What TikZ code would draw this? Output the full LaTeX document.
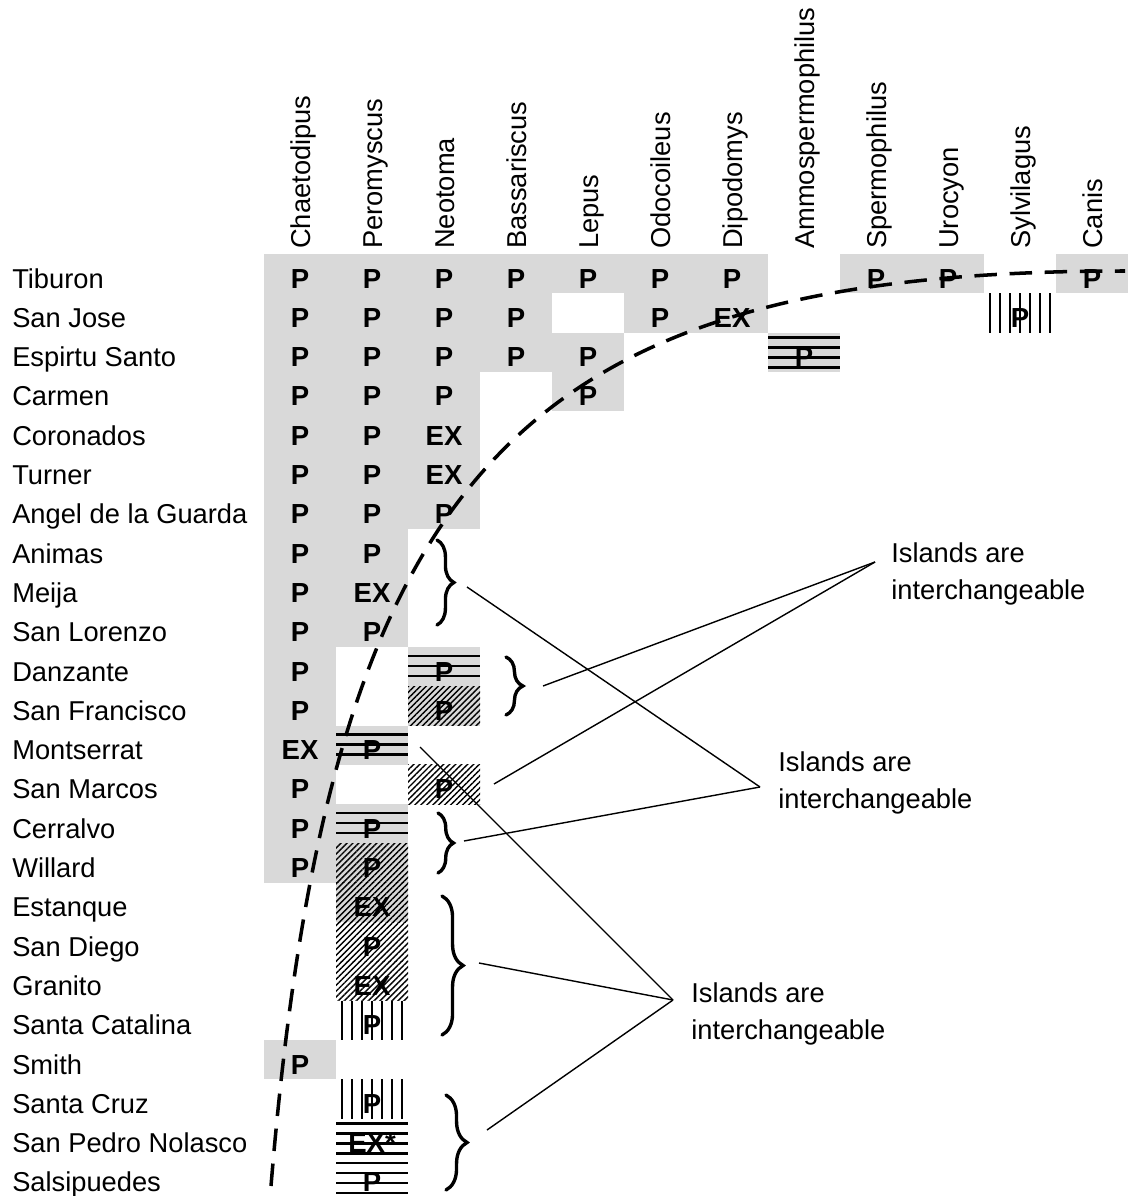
\documentclass[tikz,border=0pt]{standalone}
\usepackage{fontspec}
\setmainfont{Liberation Sans}
\usetikzlibrary{patterns.meta,decorations.pathreplacing}
\tikzset{
	groupbrace/.style={decorate, decoration={brace, amplitude=#1}},
}
\begin{document}
\begin{tikzpicture}[
	x=0.025cm, y=-0.025cm,
	island/.style={anchor=base west, inner sep=0pt, font=\fontsize{19.4}{23}\selectfont},
	genus/.style={anchor=base west, rotate=90, inner sep=0pt, font=\fontsize{19.4}{23}\selectfont},
	entry/.style={anchor=base, inner sep=0pt, font=\bfseries\fontsize{19.6}{23}\selectfont},
	present/.style={fill=black!15, draw=none},
	hline/.style={line width=1.8pt},
	vline/.style={line width=1.9pt},
	hatch/.style={pattern={Lines[angle=45,distance=3pt,line width=1pt]}, pattern color=black},
	thickbrace/.style={line width=2.4pt, line cap=round},
	note/.style={anchor=west, align=left, inner sep=0pt, font=\fontsize{19.4}{26.3}\selectfont},
	link/.style={line width=1pt},
	rangeline/.style={dash pattern=on 16pt off 9pt, line width=2.5pt},
]
\useasboundingbox (0,0) rectangle (1133,1196);

\fill[present] (264,254) rectangle (768,293.3);
\fill[present] (840,254) rectangle (984,293.3);
\fill[present] (1056,254) rectangle (1128,293.3);
\fill[present] (264,293.3) rectangle (552,332.6);
\fill[present] (624,293.3) rectangle (768,332.6);
\fill[present] (264,332.6) rectangle (624,371.9);
\fill[present] (768,332.6) rectangle (840,371.9);
\fill[present] (264,371.9) rectangle (480,411.2);
\fill[present] (552,371.9) rectangle (624,411.2);
\fill[present] (264,411.2) rectangle (480,529.1);
\fill[present] (264,529.1) rectangle (408,647);
\fill[present] (264,647) rectangle (336,882.8);
\fill[present] (408,647) rectangle (480,725.6);
\fill[present] (336,725.6) rectangle (408,764.9);
\fill[present] (336,804.2) rectangle (408,922.1);
\fill[present] (264,1040) rectangle (336,1079.3);

\foreach \r/\c in {11/2,13/2,15/1,16/1,17/1,18/1}
	\fill[hatch] ({264+72*\c},{254+39.3*\r}) rectangle ++(72,39.3);
\foreach \r/\c in {10/2,12/1,14/1}
	\foreach \k in {9,19,29}
		\draw[hline] ({264+72*\c},{254+39.3*\r+\k}) -- ++(72,0);
\foreach \r/\c in {2/7,22/1,23/1}
	\foreach \k in {5,15,25,35}
		\draw[hline] ({264+72*\c},{254+39.3*\r+\k}) -- ++(72,0);
\foreach \r/\c in {1/10,19/1,21/1}
	\foreach \k in {6,16,...,66}
		\draw[vline] ({264+72*\c+\k},{254+39.3*\r}) -- ++(0,39.3);

\foreach \c/\g in {0/Chaetodipus,1/Peromyscus,2/Neotoma,3/Bassariscus,4/Lepus,5/Odocoileus,
	6/Dipodomys,7/Ammospermophilus,8/Spermophilus,9/Urocyon,10/Sylvilagus,11/Canis}
	\node[genus] (g\c) at ({310+72*\c},249) {\g};

\foreach \r/\n in {0/Tiburon,1/San Jose,2/Espirtu Santo,3/Carmen,4/Coronados,5/Turner,
	6/Angel de la Guarda,7/Animas,8/Meija,9/San Lorenzo,10/Danzante,11/San Francisco,
	12/Montserrat,13/San Marcos,14/Cerralvo,15/Willard,16/Estanque,17/San Diego,
	18/Granito,19/Santa Catalina,20/Smith,21/Santa Cruz,22/San Pedro Nolasco,23/Salsipuedes}
	\node[island] (i\r) at (12,{288+39.3*\r}) {\n};

\foreach \r/\c/\t in {0/0/P,0/1/P,0/2/P,0/3/P,0/4/P,0/5/P,0/6/P,0/8/P,0/9/P,0/11/P,
	1/0/P,1/1/P,1/2/P,1/3/P,1/5/P,1/6/EX,1/10/P,
	2/0/P,2/1/P,2/2/P,2/3/P,2/4/P,2/7/P,
	3/0/P,3/1/P,3/2/P,3/4/P,
	4/0/P,4/1/P,4/2/EX,5/0/P,5/1/P,5/2/EX,6/0/P,6/1/P,6/2/P,
	7/0/P,7/1/P,8/0/P,8/1/EX,9/0/P,9/1/P,
	10/0/P,10/2/P,11/0/P,11/2/P,12/0/EX,12/1/P,13/0/P,13/2/P,
	14/0/P,14/1/P,15/0/P,15/1/P,16/1/EX,17/1/P,18/1/EX,19/1/P,
	20/0/P,21/1/P,22/1/EX*,23/1/P}
	\node[entry] (e\r-\c) at ({300+72*\c},{288+39.3*\r}) {\t};

\draw[thickbrace, groupbrace=12pt] (437,540) -- (437,625);
\draw[thickbrace, groupbrace=12pt] (506,657) -- (506,715);
\draw[thickbrace, groupbrace=11pt] (438,813) -- (438,873);
\draw[thickbrace, groupbrace=15pt] (442,896) -- (442,1035);
\draw[thickbrace, groupbrace=15pt] (446,1095) -- (446,1190);

\coordinate (bAnimas) at (467,587);
\coordinate (bDanzante) at (543,686);
\coordinate (bCerralvo) at (464,841);
\coordinate (bEstanque) at (479,963);
\coordinate (bSantaCruz) at (487,1130);
\coordinate (pMontserrat) at (420,747);
\coordinate (pSanMarcos) at (494,784);

\node[note] (noteTop) at (891,574) {Islands are\\interchangeable};
\node[note] (noteMid) at (778,783) {Islands are\\interchangeable};
\node[note] (noteLow) at (691,1014) {Islands are\\interchangeable};
\coordinate (hubTop) at (875,562);
\coordinate (hubMid) at (760,787);
\coordinate (hubLow) at (673,1000);

\draw[link] (bDanzante) -- (hubTop);
\draw[link] (pSanMarcos) -- (hubTop);
\draw[link] (bAnimas) -- (hubMid);
\draw[link] (bCerralvo) -- (hubMid);
\draw[link] (pMontserrat) -- (hubLow);
\draw[link] (bEstanque) -- (hubLow);
\draw[link] (bSantaCruz) -- (hubLow);

\draw[rangeline] (271,1186) .. controls (330,470) and (520,271) .. (1125,271);

\end{tikzpicture}
\end{document}
